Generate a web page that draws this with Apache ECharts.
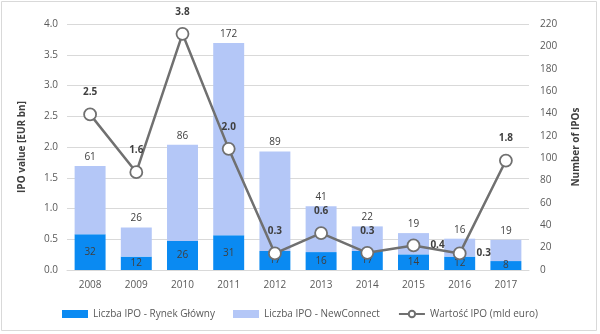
<!DOCTYPE html>
<html><head><meta charset="utf-8">
<script src="https://cdn.jsdelivr.net/npm/echarts@6/dist/echarts.min.js"></script>
<style>html,body{margin:0;padding:0;background:#fff}#c{width:600px;height:334px}</style>
</head><body><div id="c"></div>
<script>
const years = ['2008','2009','2010','2011','2012','2013','2014','2015','2016','2017'];
const mainMarket = [32,12,26,31,17,16,17,14,12,8];
const newConnect = [61,26,86,172,89,41,22,19,16,19];
const ipoValue = [2.53,1.59,3.84,1.97,0.27,0.6,0.28,0.4,0.27,1.78];
const lineLabelPos = ['top','top','top','top','top','top','top','right','right','top'];
const leftTicks = {min:0,max:4,interval:0.5};
const rightTicks = {min:0,max:220,interval:20};

const font = 'Open Sans';
const chart = echarts.init(document.getElementById('c'));
chart.setOption({
  animation:false,
  textStyle:{fontFamily:font},
  graphic:[{type:'rect',shape:{x:1.5,y:1.5,width:595,height:329},style:{fill:'none',stroke:'#d9d9d9',lineWidth:1}}],
  grid:{left:67,right:71,top:24,bottom:64},
  legend:{bottom:10,left:'center',itemGap:18,itemWidth:26,itemHeight:8,
    textStyle:{color:'#595959',fontSize:10,fontFamily:font},
    data:[{name:'Liczba IPO - Rynek Główny',icon:'rect'},{name:'Liczba IPO - NewConnect',icon:'rect'},{name:'Wartość IPO (mld euro)'}]},
  xAxis:{type:'category',data:years,axisTick:{show:false},
    axisLine:{lineStyle:{color:'#d9d9d9'}},
    axisLabel:{color:'#595959',fontSize:10,margin:10}},
  yAxis:[
    {type:'value',min:leftTicks.min,max:leftTicks.max,interval:leftTicks.interval,
     name:'IPO value [EUR bn]',nameLocation:'middle',nameGap:40,nameRotate:90,
     nameTextStyle:{color:'#404040',fontWeight:'bold',fontSize:10},
     axisLabel:{color:'#595959',fontSize:10,formatter:v=>v.toFixed(1),margin:9},
     splitLine:{lineStyle:{color:'#d9d9d9'}},axisLine:{show:false},axisTick:{show:false}},
    {type:'value',min:rightTicks.min,max:rightTicks.max,interval:rightTicks.interval,position:'right',
     name:'Number of IPOs',nameLocation:'middle',nameGap:42,nameRotate:90,
     nameTextStyle:{color:'#404040',fontWeight:'bold',fontSize:10},
     axisLabel:{color:'#595959',fontSize:10,margin:11},
     splitLine:{show:false},axisLine:{show:false},axisTick:{show:false}}
  ],
  series:[
    {name:'Liczba IPO - Rynek Główny',type:'bar',stack:'n',yAxisIndex:1,data:mainMarket,
     barWidth:'67%',itemStyle:{color:'#0a8af2'},
     label:{show:true,position:'inside',color:'#404040',fontSize:10}},
    {name:'Liczba IPO - NewConnect',type:'bar',stack:'n',yAxisIndex:1,data:newConnect,
     itemStyle:{color:'#b4c7f7'},
     label:{show:true,position:'insideTop',distance:-6,offset:[0,-8],color:'#404040',fontSize:10}},
    {name:'Wartość IPO (mld euro)',type:'line',yAxisIndex:0,
     data:ipoValue.map((v,i)=>({value:v,label:{position:lineLabelPos[i]}})),
     symbol:'circle',symbolSize:12,
     lineStyle:{color:'#707070',width:2.5},
     itemStyle:{color:'#ffffff',borderColor:'#707070',borderWidth:1.8},
     label:{show:true,distance:10,color:'#404040',fontWeight:'bold',fontSize:10,formatter:p=>p.value.toFixed(1)}}
  ]
});
</script></body></html>
